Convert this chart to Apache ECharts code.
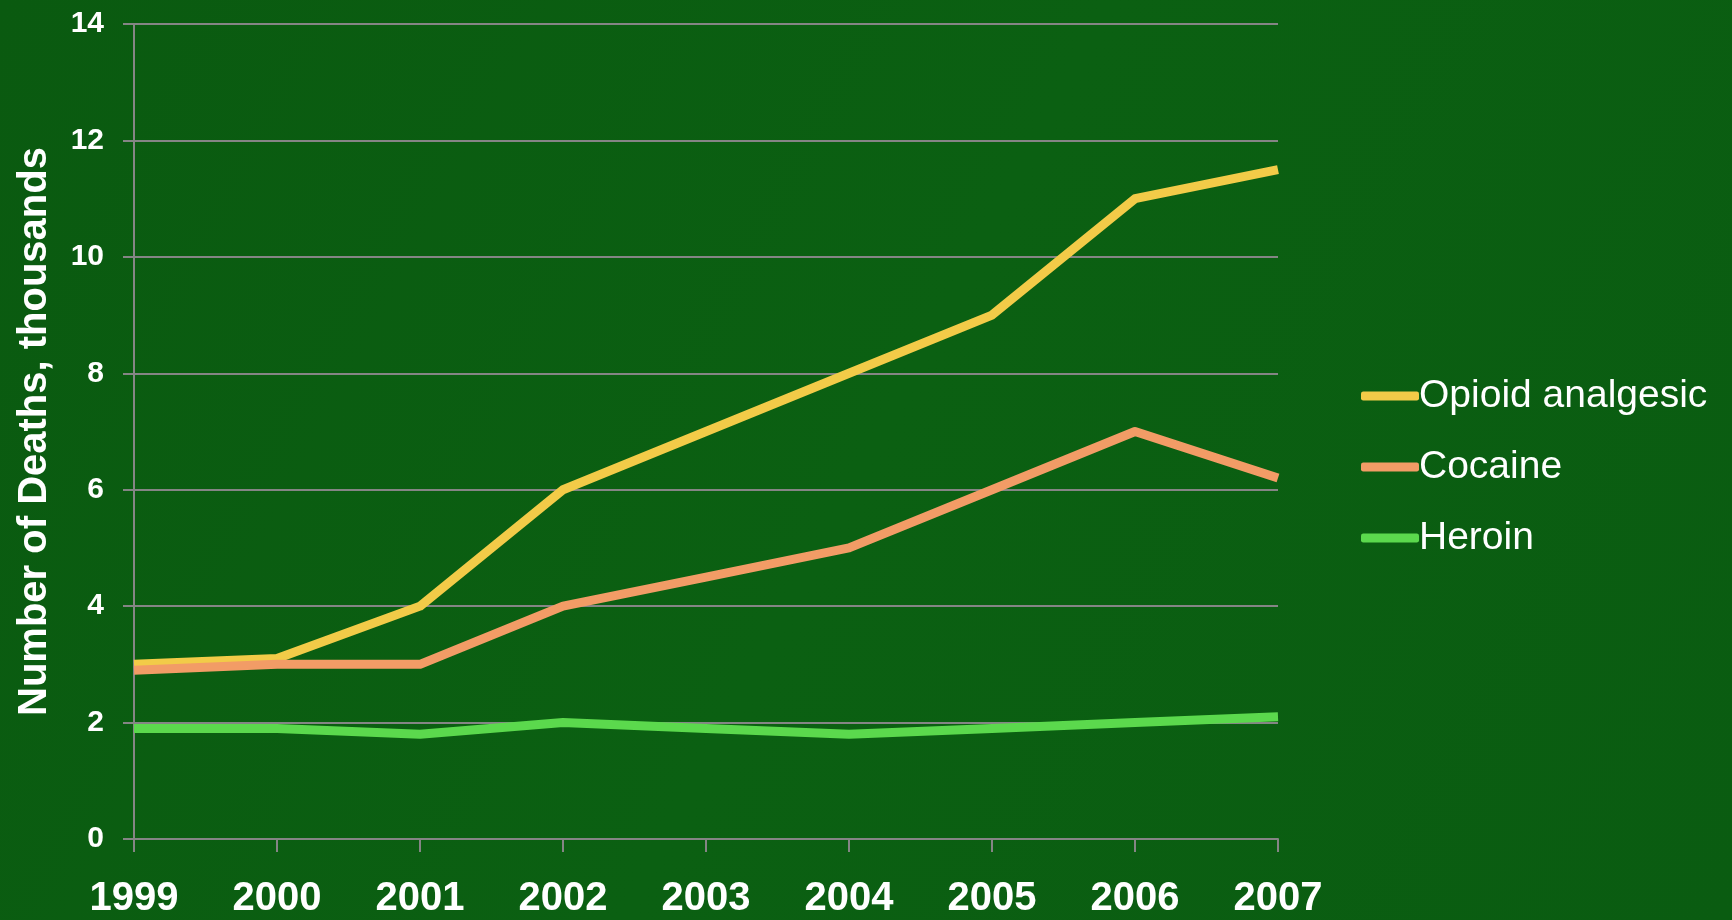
<!DOCTYPE html>
<html><head><meta charset="utf-8">
<script src="https://cdn.jsdelivr.net/npm/echarts@6/dist/echarts.min.js"></script>
<style>html,body{margin:0;padding:0;background:#0b5e12;}#c{width:1732px;height:920px;}</style>
</head><body><div id="c"></div>
<script>
var years = ['1999','2000','2001','2002','2003','2004','2005','2006','2007'];
var opioid = [3.0, 3.1, 4.0, 6.0, 7.0, 8.0, 9.0, 11.0, 11.5];
var cocaine = [2.9, 3.0, 3.0, 4.0, 4.5, 5.0, 6.0, 7.0, 6.2];
var heroin = [1.9, 1.9, 1.8, 2.0, 1.9, 1.8, 1.9, 2.0, 2.1];
var seriesNames = ['Opioid analgesic', 'Cocaine', 'Heroin'];
var yTitle = 'Number of Deaths, thousands';

var FONT = "'Liberation Sans Narrow', 'Arial Narrow', 'Liberation Sans', sans-serif";
var colors = ['#f2cb48', '#f29c66', '#5bd94d'];
var chart = echarts.init(document.getElementById('c'));
function mk(name, data, color) {
  return { name: name, type: 'line', data: data, symbol: 'none', smooth: false,
    lineStyle: { color: color, width: 9, cap: 'butt', join: 'round' }, itemStyle: { color: color } };
}
chart.setOption({
  backgroundColor: {
    type: 'linear', x: 0, y: 0, x2: 1, y2: 1,
    colorStops: [{offset: 0, color: '#0a5a10'}, {offset: 0.5, color: '#0b6012'}, {offset: 1, color: '#0a5c11'}]
  },
  animation: false,
  grid: { left: 134, right: 454, top: 24, bottom: 81 },
  legend: {
    orient: 'vertical', left: 1361, top: 371, padding: 0, itemGap: 21,
    icon: 'roundRect', itemWidth: 58, itemHeight: 9,
    textStyle: { color: '#ffffff', fontFamily: FONT, fontSize: 39, lineHeight: 50, padding: [0,0,0,-5] },
    data: seriesNames
  },
  xAxis: {
    type: 'category', data: years, boundaryGap: false,
    axisLine: { lineStyle: { color: '#858585', width: 2 } },
    axisTick: { show: true, length: 13, lineStyle: { color: '#858585', width: 2 } },
    axisLabel: { color: '#ffffff', fontFamily: FONT, fontWeight: 'bold', fontSize: 40, margin: 40 },
    splitLine: { show: false }
  },
  yAxis: {
    type: 'value', min: 0, max: 14, interval: 2,
    name: yTitle, nameLocation: 'middle', nameRotate: 90, nameGap: 79,
    nameTextStyle: { color: '#ffffff', fontFamily: FONT, fontWeight: 'bold', fontSize: 40 },
    axisLine: { show: true, lineStyle: { color: '#858585', width: 2 } },
    axisTick: { show: true, length: 11, lineStyle: { color: '#858585', width: 2 } },
    axisLabel: { color: '#ffffff', fontFamily: FONT, fontWeight: 'bold', fontSize: 30, margin: 30 },
    splitLine: { show: true, lineStyle: { color: '#858585', width: 2 } }
  },
  series: [mk(seriesNames[0], opioid, colors[0]), mk(seriesNames[1], cocaine, colors[1]), mk(seriesNames[2], heroin, colors[2])]
});
</script></body></html>
